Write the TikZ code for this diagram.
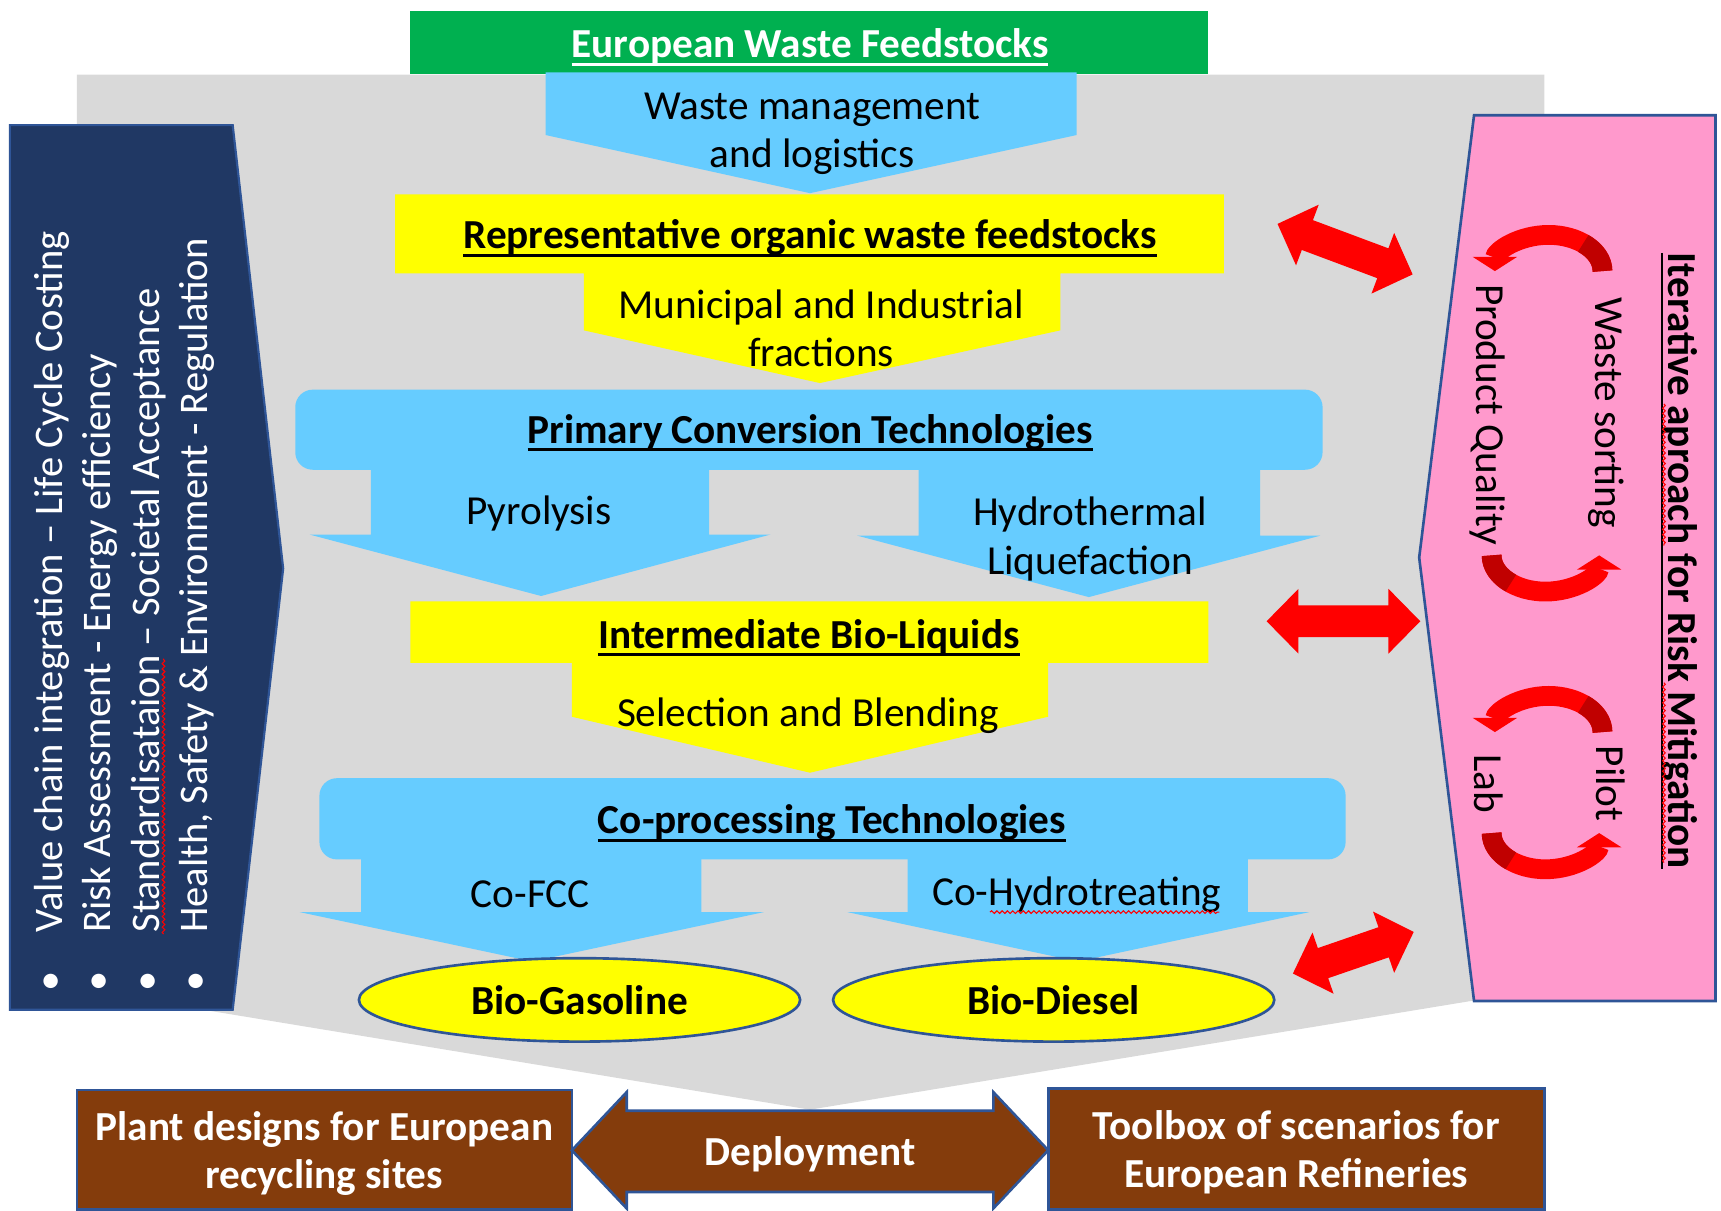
\documentclass[tikz,border=0pt]{standalone}
\usepackage{fontspec}
\setmainfont{Carlito}
\usetikzlibrary{arrows.meta,shapes.geometric,decorations.pathmorphing}
\definecolor{gbg}{HTML}{D9D9D9}
\definecolor{lblue}{HTML}{66CCFF}
\definecolor{ylw}{HTML}{FFFF00}
\definecolor{grn}{HTML}{00B050}
\definecolor{navy}{HTML}{203864}
\definecolor{pnk}{HTML}{FF99CC}
\definecolor{brn}{HTML}{843C0C}
\definecolor{edgeblue}{HTML}{2F5597}
\definecolor{dred}{HTML}{C00000}
\newcommand\myul[1]{\setbox0\hbox{#1}\rlap{\rule[-3.5pt]{\wd0}{1.2pt}}\box0}
\newcommand\dblarr[4]{%
 \fill[red, shift={(#1,#2)}, rotate=#3] (-#4,0) -- (-#4+29,-29.5) -- (-#4+29,-14.5) -- (#4-29,-14.5) -- (#4-29,-29.5) -- (#4,0) -- (#4-29,29.5) -- (#4-29,14.5) -- (-#4+29,14.5) -- (-#4+29,29.5) -- cycle;}
\begin{document}
\begin{tikzpicture}[x=0.5pt,y=-0.5pt,
  txt/.style={font=\fontsize{18.8pt}{22pt}\selectfont, align=center, inner sep=0pt, text=black},
  btxt/.style={font=\fontsize{18.8pt}{22pt}\selectfont\bfseries, align=center, inner sep=0pt, text=black},
  wtxt/.style={btxt, text=white},
  navytxt/.style={font=\fontsize{18.5pt}{22pt}\selectfont, inner sep=0pt, text=white},
  cyc/.style={red, line width=9pt, -{Triangle[width=20pt,length=6.5pt]}},
  cycdark/.style={dred, line width=9pt},
  spell/.style={red, line width=0.5pt, decorate, decoration={snake, amplitude=0.6pt, segment length=2.4pt}},
  brownbox/.style={draw=edgeblue, fill=brn, line width=1.2pt, inner sep=0pt},
  prod/.style={ellipse, draw=edgeblue, line width=1.2pt, fill=ylw, inner sep=0pt, minimum width=201pt, minimum height=38pt, font=\fontsize{18.8pt}{22pt}\selectfont\bfseries}]
\useasboundingbox (0,0) rectangle (1568,1103);

% grey background arrow
\fill[gbg] (70,68) -- (1407,68) -- (1407,901) -- (738,1011) -- (70,901) -- cycle;
% navy left panel
\filldraw[fill=navy, draw=edgeblue, line width=1pt] (9,114) -- (212,114) -- (258,518) -- (212,920) -- (9,920) -- cycle;
% pink right panel
\filldraw[fill=pnk, draw=edgeblue, line width=1.2pt] (1343,105) -- (1563,105) -- (1563,912) -- (1343,912) -- (1293,508) -- cycle;

% flow shapes
\fill[grn] (374,10) rectangle (1101,67);
\fill[lblue] (497,66) -- (981,66) -- (981,123) -- (738,176) -- (497,123) -- cycle;
\fill[ylw] (360,177) -- (1115,177) -- (1115,249) -- (966,249) -- (966,301) -- (747,349) -- (532,301) -- (532,249) -- (360,249) -- cycle;
\fill[lblue, rounded corners=8pt] (269,355) rectangle (1205,428);
\fill[lblue] (338,420) -- (646,420) -- (646,487) -- (702,487) -- (493,543) -- (282,487) -- (338,487) -- cycle;
\fill[lblue] (837,420) -- (1148,420) -- (1148,488) -- (1203,488) -- (992,544) -- (781,488) -- (837,488) -- cycle;
\fill[ylw] (374,548) -- (1101,548) -- (1101,604) -- (955,604) -- (955,653) -- (738,704) -- (521,653) -- (521,604) -- (374,604) -- cycle;
\fill[lblue, rounded corners=8pt] (291,709) rectangle (1226,783);
\fill[lblue] (329,775) -- (639,775) -- (639,831) -- (696,831) -- (485,876) -- (273,831) -- (329,831) -- cycle;
\fill[lblue] (827,775) -- (1137,775) -- (1137,831) -- (1193,831) -- (982,876) -- (772,831) -- (827,831) -- cycle;

% texts in the flow
\node[wtxt] (ewf) at (738,43) {\myul{European Waste Feedstocks}};
\node[txt] (wml) at (740,122) {Waste management\\and logistics};
\node[btxt] (rowf) at (738,217) {\myul{Representative organic waste feedstocks}};
\node[txt] (mif) at (748,299) {Municipal and Industrial\\fractions};
\node[btxt] (pct) at (738,394) {\myul{Primary Conversion Technologies}};
\node[txt] (pyr) at (491,468) {Pyrolysis};
\node[txt] (htl) at (993,491) {Hydrothermal\\Liquefaction};
\node[btxt] (ibl) at (737,581) {\myul{Intermediate Bio-Liquids}};
\node[txt] (sab) at (736,652) {Selection and Blending};
\node[btxt] (cpt) at (758,750) {\myul{Co-processing Technologies}};
\node[txt] (cfcc) at (483,815) {Co-FCC};
\node[txt] (chyd) at (981,815) {Co-Hydrotreating};
\draw[spell] (902,831) -- (1111,831);
\node[prod] (gas) at (528,911) {Bio-Gasoline};
\node[prod] (dsl) at (960,911) {Bio-Diesel};

% left panel texts
\foreach \bx/\t [count=\i] in {57/{Value chain integration -- Life Cycle Costing},
                                101/{Risk Assessment - Energy efficiency},
                                145/{Standardisataion -- Societal Acceptance},
                                189/{Health, Safety \& Environment - Regulation}}
  \node[navytxt, anchor=base west, rotate=90] (lp\i) at (\bx,904) {\makebox[27pt][l]{\textbullet}\t};
\draw[spell] (149,851) -- (149,600);

% right panel texts
\node[btxt, anchor=base, rotate=-90] (iter) at (1520,511) {\myul{Iterative aproach for Risk Mitigation}};
\draw[spell] (1516,368) -- (1516,497);
\draw[spell] (1516,622) -- (1516,786);
\node[txt, anchor=base, rotate=-90] (ws) at (1454,376) {Waste sorting};
\node[txt, anchor=base, rotate=-90] (pq) at (1345,378) {Product Quality};
\node[txt, anchor=base, rotate=-90] (pil) at (1455,714) {Pilot};
\node[txt, anchor=base, rotate=-90] (lab) at (1343,714) {Lab};

% cycle arrows
\draw[cyc] (1460,247) arc[start angle=0, end angle=-180, x radius=49, y radius=33];
\draw[cycdark] (1460,247) arc[start angle=0, end angle=-50, x radius=49, y radius=33];
\draw[cyc] (1359,506) arc[start angle=180, end angle=0, x radius=49, y radius=33];
\draw[cycdark] (1359,506) arc[start angle=180, end angle=130, x radius=49, y radius=33];
\draw[cyc] (1460,667) arc[start angle=0, end angle=-180, x radius=49, y radius=33];
\draw[cycdark] (1460,667) arc[start angle=0, end angle=-50, x radius=49, y radius=33];
\draw[cyc] (1359,759) arc[start angle=180, end angle=0, x radius=49, y radius=33];
\draw[cycdark] (1359,759) arc[start angle=180, end angle=130, x radius=49, y radius=33];

% red double arrows
\dblarr{1225.5}{227}{-20.5}{65.7}
\dblarr{1224}{566}{0}{70}
\dblarr{1233}{868}{19}{58.2}

% bottom
\node[brownbox, minimum width=225.5pt, minimum height=54.5pt] (plant) at (295.5,1047.5) {};
\node[wtxt] (plantt) at (295.5,1051) {Plant designs for European\\recycling sites};
\node[brownbox, minimum width=226pt, minimum height=55pt] (tool) at (1181,1047) {};
\node[wtxt] (toolt) at (1181,1050) {Toolbox of scenarios for\\European Refineries};
\filldraw[fill=brn, draw=edgeblue, line width=1.2pt] (521,1048) -- (571,995) -- (571,1012) -- (905,1012) -- (905,995) -- (955,1048) -- (905,1101) -- (905,1086) -- (571,1086) -- (571,1101) -- cycle;
\node[wtxt] (dep) at (738,1052) {Deployment};
\end{tikzpicture}
\end{document}
